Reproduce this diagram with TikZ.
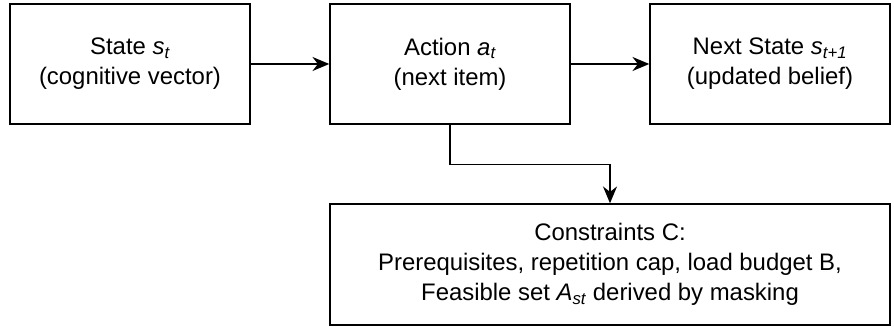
\documentclass[tikz,border=0pt]{standalone}
\usepackage{fontspec}
\setmainfont{Liberation Sans}
\usepackage{tikz}
\usetikzlibrary{arrows.meta, positioning}

\begin{document}
\begin{tikzpicture}[
    block/.style={draw, line width=1pt, fill=white,
                  minimum width=6cm, minimum height=3cm,
                  font=\fontsize{17}{21.5}\selectfont, align=center},
    widebox/.style={block, minimum width=14cm, minimum height=3.02cm},
    arr/.style={-{Stealth[length=12pt, width=10pt]}, line width=1pt}
  ]
    \useasboundingbox (0,0) rectangle (22.35,8.2);

    \node[block]   (state) at (3.25, 6.6)   {State \textit{s\textsubscript{t}}\\(cognitive vector)};
    \node[block]   (act)   at (11.25, 6.6)  {Action \textit{a\textsubscript{t}}\\(next item)};
    \node[block]   (next)  at (19.25, 6.6)  {Next State \textit{s\textsubscript{t+1}}\\(updated belief)};

    \node[widebox] (cons)  at (15.25, 1.59) {Constraints C:\\Prerequisites, repetition cap, load budget B,\\Feasible set \textit{A\textsubscript{st}} derived by masking};

    \draw[arr] (state.east) -- (act.west);
    \draw[arr] (act.east)   -- (next.west);
    \draw[arr] (act.south)  -- ++(0,-1) -| (cons.north);
  \end{tikzpicture}
\end{document}
